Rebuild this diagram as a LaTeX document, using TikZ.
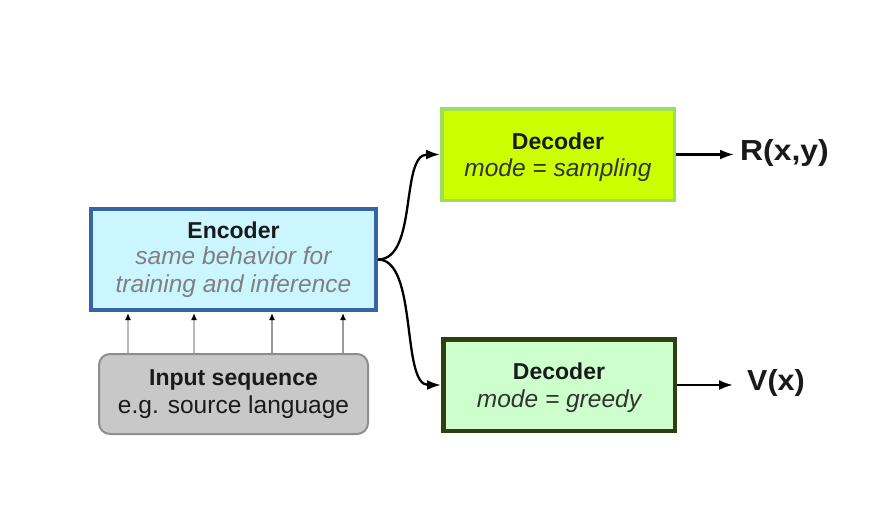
\documentclass[tikz,border=0pt]{standalone}
\usepackage{fontspec}
\setmainfont{Liberation Sans}
\usetikzlibrary{arrows.meta}
\definecolor{encfill}{HTML}{CCF6FF}
\definecolor{encdraw}{HTML}{3465A4}
\definecolor{inpfill}{HTML}{C8C8C8}
\definecolor{inpdraw}{HTML}{8E8E8E}
\definecolor{deconefill}{HTML}{CCFF00}
\definecolor{deconedraw}{HTML}{9EDC5E}
\definecolor{dectwofill}{HTML}{CCFFCC}
\definecolor{dectwodraw}{HTML}{2F3F12}
\definecolor{subgray}{HTML}{808080}
\definecolor{darktxt}{HTML}{1A1A1A}
\definecolor{modetxt}{HTML}{333333}
\newcommand{\ttl}[1]{{\fontsize{23}{27.5}\selectfont\bfseries #1}}
\newcommand{\sub}[1]{{\fontsize{24.5}{27.5}\selectfont #1}}
\tikzset{
  boxtext/.style={align=center, font=\fontsize{24.5}{27.5}\selectfont, text=darktxt, inner sep=0pt},
  encbox/.style={boxtext, draw=encdraw, fill=encfill, line width=4pt, minimum width=285pt, minimum height=101pt},
  inpbox/.style={boxtext, draw=inpdraw, fill=inpfill, line width=2pt, rounded corners=11pt, minimum width=269pt, minimum height=80pt},
  deconebox/.style={boxtext, draw=deconedraw, fill=deconefill, line width=3.5pt, minimum width=232.5pt, minimum height=91.5pt},
  dectwobox/.style={boxtext, draw=dectwodraw, fill=dectwofill, line width=4.5pt, minimum width=231.5pt, minimum height=91.5pt},
  outtext/.style={font=\fontsize{29}{34}\selectfont\bfseries, text=darktxt, inner sep=0pt, anchor=west},
  inarrow/.style={line width=2pt, -{Latex[length=7pt,width=6pt,color=black]}, shorten >=1pt},
  flow/.style={line width=2.3pt, black, -{Latex[length=14pt,width=10pt]}},
}
\begin{document}
\begin{tikzpicture}[x=1pt,y=-1pt]
\useasboundingbox (0,0) rectangle (887,517);
\node[encbox] (enc) at (233.5,259.5) {\ttl{Encoder}\\[-1pt]\textcolor{subgray}{\itshape same behavior for}\\\textcolor{subgray}{\itshape training and inference}};
\node[inpbox] (inp) at (233.5,394) {\ttl{Input sequence}\\e.g. source language};
\node[deconebox] (dec1) at (558,154.5) {\rule{0pt}{22pt}\ttl{Decoder}\\\textcolor{modetxt}{\itshape mode = sampling}};
\node[dectwobox] (dec2) at (559,385) {\rule{0pt}{22pt}\ttl{Decoder}\\\textcolor{modetxt}{\itshape mode = greedy}};
\node[outtext] (R) at (740,153) {\scalebox{1.1}[1]{R(x,y)}};
\node[outtext] (V) at (747,383) {\scalebox{1.05}[1]{V(x)}};
% input arrows
\draw[inarrow, draw=gray!55] ([xshift=-105.5pt]inp.north) -- ([xshift=-105.5pt]enc.south);
\draw[inarrow, draw=gray!55] ([xshift=-39.5pt]inp.north) -- ([xshift=-39.5pt]enc.south);
\draw[inarrow, draw=gray!80] ([xshift=38.5pt]inp.north) -- ([xshift=38.5pt]enc.south);
\draw[inarrow, draw=gray!80] ([xshift=109.5pt]inp.north) -- ([xshift=109.5pt]enc.south);
% branches
\draw[flow] (enc.east) .. controls +(40,0) and +(-40,0) .. (dec1.west);
\draw[flow] (enc.east) .. controls +(40,0) and +(-40,0) .. (dec2.west);
% outputs
\draw[flow, shorten >=6pt] (dec1.east) -- (dec1.east -| R.west);
\draw[flow, shorten >=14pt] (dec2.east) -- (dec2.east -| V.west);
\end{tikzpicture}
\end{document}
